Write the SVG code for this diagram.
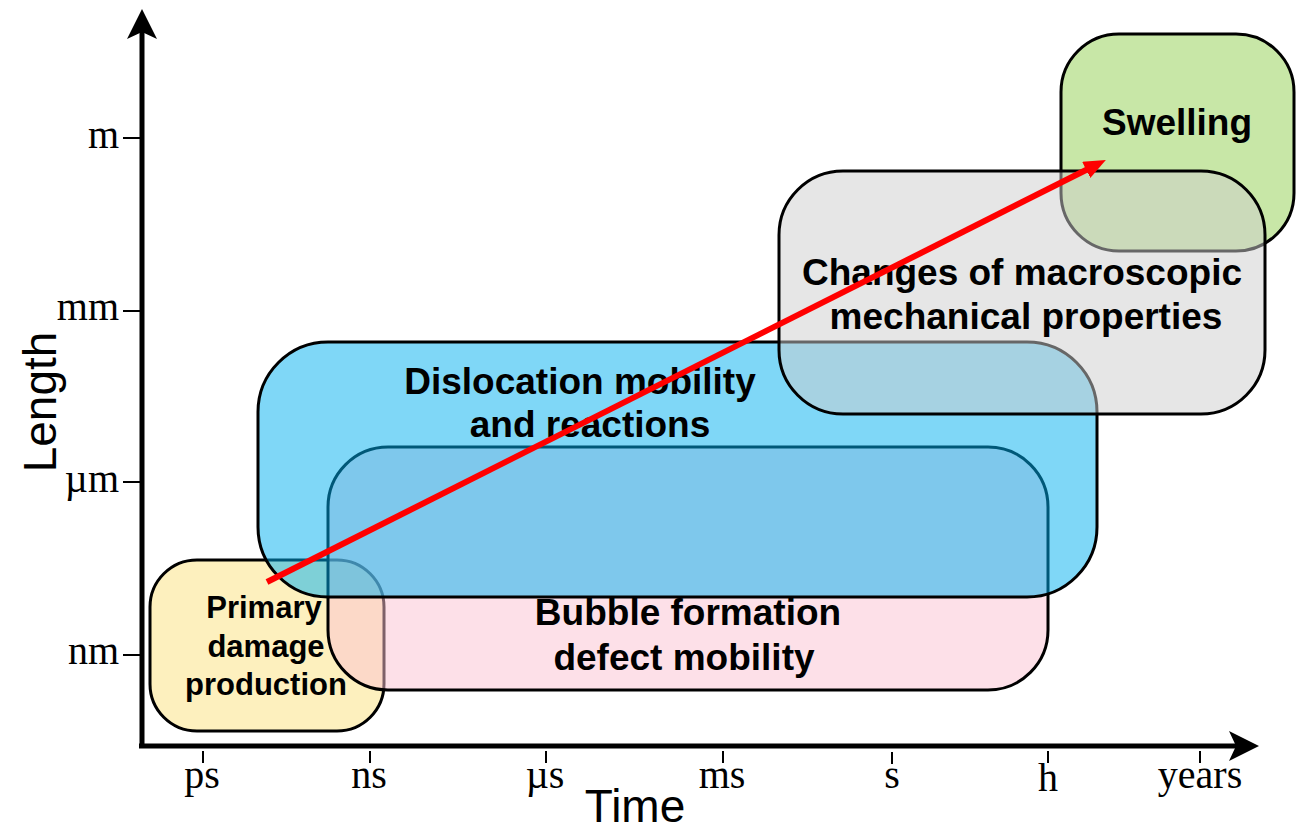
<svg xmlns="http://www.w3.org/2000/svg" width="1299" height="832" viewBox="0 0 1299 832">
<style>
.box{stroke:#000;stroke-width:3}
.lbl{font-family:"Liberation Sans",Arial,sans-serif;font-weight:bold;font-size:37px;fill:#000;text-anchor:middle}
.tick{font-family:"Liberation Serif","Times New Roman",serif;font-size:40px;fill:#000}
.axt{font-family:"Liberation Sans",Arial,sans-serif;font-size:46px;fill:#000;text-anchor:middle}
.tk{stroke:#000;stroke-width:2}
</style>
<defs>
<marker id="redhead" markerUnits="userSpaceOnUse" markerWidth="30" markerHeight="30" refX="2" refY="9" orient="auto">
<path d="M0,0 L22,9 L0,18 Z" fill="#ff0000"/>
</marker>
</defs>
<rect width="1299" height="832" fill="#fff"/>

<g id="axes">
<line x1="142" y1="746" x2="142" y2="30" stroke="#000" stroke-width="5"/>
<path d="M142,9 L157,39 L142,32 L127,39 Z" fill="#000"/>
<line x1="139" y1="746" x2="1238" y2="746" stroke="#000" stroke-width="5"/>
<path d="M1259,746 L1229,731 L1236,746 L1229,761 Z" fill="#000"/>
<line class="tk" x1="123" y1="138" x2="142" y2="138"/>
<line class="tk" x1="123" y1="311" x2="142" y2="311"/>
<line class="tk" x1="123" y1="482" x2="142" y2="482"/>
<line class="tk" x1="123" y1="655" x2="142" y2="655"/>
<text class="tick" x="119" y="148" text-anchor="end">m</text>
<text class="tick" x="119" y="320" text-anchor="end">mm</text>
<text class="tick" x="119" y="492" text-anchor="end">µm</text>
<text class="tick" x="119" y="664" text-anchor="end">nm</text>
<line class="tk" x1="203" y1="751" x2="203" y2="763"/>
<line class="tk" x1="370" y1="751" x2="370" y2="763"/>
<line class="tk" x1="546" y1="751" x2="546" y2="763"/>
<line class="tk" x1="723" y1="751" x2="723" y2="763"/>
<line class="tk" x1="892" y1="752" x2="892" y2="764"/>
<line class="tk" x1="1048" y1="751" x2="1048" y2="763"/>
<line class="tk" x1="1200" y1="751" x2="1200" y2="763"/>
<text class="tick" x="202" y="788" text-anchor="middle">ps</text>
<text class="tick" x="369" y="788" text-anchor="middle">ns</text>
<text class="tick" x="545" y="788" text-anchor="middle">µs</text>
<text class="tick" x="722" y="788" text-anchor="middle">ms</text>
<text class="tick" x="892" y="788" text-anchor="middle">s</text>
<text class="tick" x="1048" y="791" text-anchor="middle">h</text>
<text class="tick" x="1200" y="788" text-anchor="middle">years</text>
<text class="axt" x="635" y="822">Time</text>
<text class="axt" transform="translate(56,402) rotate(-90)">Length</text>
</g>

<g id="primary">
<rect class="box" x="150" y="560" width="234" height="171" rx="47" fill="#fdf0be"/>
</g>
<g id="bubble">
<rect class="box" x="328" y="447" width="720" height="243" rx="60" fill="rgb(251,193,209)" fill-opacity="0.5"/>
</g>
<g id="dislocation">
<rect class="box" x="258" y="342" width="839" height="255" rx="70" fill="rgb(0,176,240)" fill-opacity="0.5"/>
</g>
<g id="swelling">
<rect class="box" x="1061" y="34" width="233" height="217" rx="58" fill="rgb(146,208,80)" fill-opacity="0.5"/>
</g>
<g id="macro">
<rect class="box" x="779" y="171" width="486" height="243" rx="64" fill="rgb(205,205,205)" fill-opacity="0.5"/>
</g>

<g id="labels">
<text class="lbl" style="font-size:31px" x="264" y="618">Primary</text>
<text class="lbl" style="font-size:31px" x="266" y="657">damage</text>
<text class="lbl" style="font-size:31px" x="266" y="695">production</text>
<text class="lbl" x="580" y="394">Dislocation mobility</text>
<text class="lbl" x="590" y="437">and reactions</text>
<text class="lbl" x="688" y="625">Bubble formation</text>
<text class="lbl" x="684" y="670">defect mobility</text>
<text class="lbl" x="1022" y="285">Changes of macroscopic</text>
<text class="lbl" x="1026" y="329">mechanical properties</text>
<text class="lbl" x="1177" y="135">Swelling</text>
</g>

<g id="connectors">
<line x1="267" y1="582" x2="1088" y2="169" stroke="#ff0000" stroke-width="6" marker-end="url(#redhead)"/>
</g>
</svg>
